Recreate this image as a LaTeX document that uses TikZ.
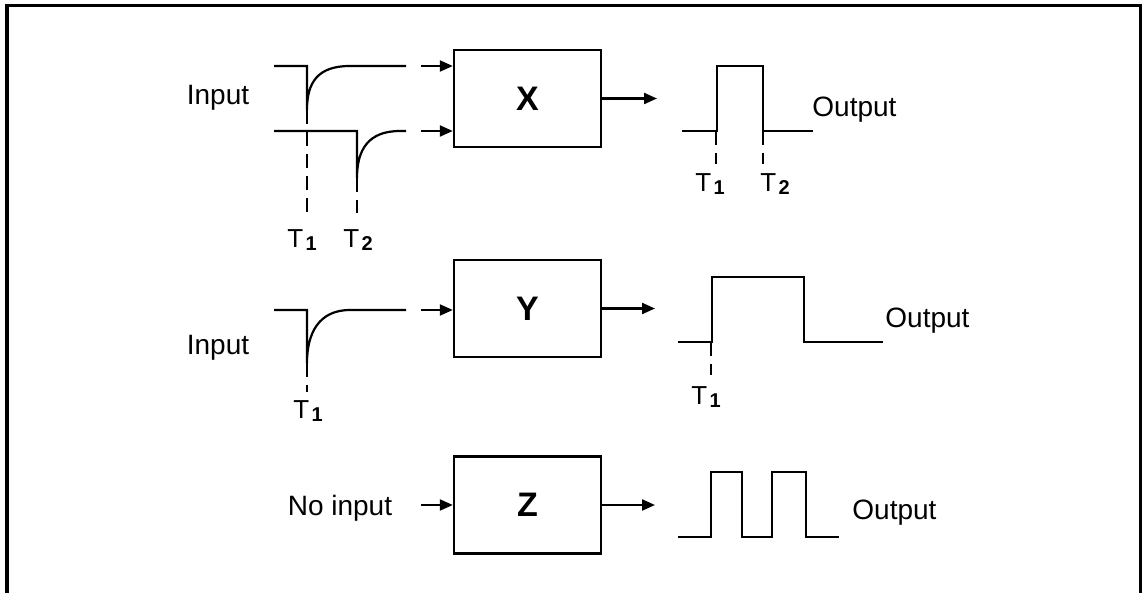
\documentclass[tikz,border=0pt]{standalone}
\usepackage{fontspec}
\setmainfont{Liberation Sans}
\usepackage{tikz}
\usetikzlibrary{arrows.meta,positioning}

\newcommand{\tlab}[1]{T\kern1.2pt\raisebox{-1.8pt}{\fontsize{10pt}{10pt}\selectfont\bfseries #1}}

\begin{document}
\begin{tikzpicture}[
    x=0.5pt, y=-0.5pt,
    blk/.style={draw, line width=1.2pt, minimum width=73.5pt, minimum height=48.5pt,
    font=\fontsize{17pt}{17pt}\selectfont\bfseries},
    txt/.style={font=\fontsize{14pt}{14pt}\selectfont, inner sep=0pt},
    tlbl/.style={font=\fontsize{13pt}{13pt}\selectfont, inner sep=0pt, anchor=north west},
    wave/.style={line width=1.1pt},
    guide/.style={line width=1.1pt, dash pattern=on 7pt off 4pt},
    arr/.style={-{Triangle[length=6.5pt,width=5.5pt]}, line width=1.1pt}
]
\useasboundingbox (0,0) rectangle (1142,593);
\draw[line width=1.8pt] (7,593) -- (7,5.5) -- (1140.5,5.5) -- (1140.5,593);

\node[blk] (X) at (527.5,98.5) {X};
\node[blk] (Y) at (527.5,308.5) {Y};
\node[blk] (Z) at (527.5,505) {Z};

\node[txt] (inx) at (218,98) {Input};
\node[txt] (iny) at (218,348) {Input};
\node[txt] (noin) at (340,508) {No input};
\node[txt, anchor=west] (outx) at (812,110) {Output};
\node[txt, anchor=west] (outy) at (885,321) {Output};
\node[txt, anchor=west] (outz) at (852,513) {Output};

\node[tlbl] (tx1) at (287,229) {\tlab{1}};
\node[tlbl] (tx2) at (343,229) {\tlab{2}};
\node[tlbl] (ox1) at (695,173) {\tlab{1}};
\node[tlbl] (ox2) at (760,173) {\tlab{2}};
\node[tlbl] (ty1) at (293,400) {\tlab{1}};
\node[tlbl] (oy1) at (691,386) {\tlab{1}};

\draw[wave] (274,66) -- (307,66) -- (307,110) .. controls (307,82) and (318,66) .. (350,66) -- (406,66);
\draw[wave] (274,131) -- (357,131) -- (357,178) .. controls (357,150) and (368,131) .. (400,131) -- (406,131);
\draw[guide] (307,110) -- (307,213);
\draw[guide] (357,178) -- (357,213);
\draw[wave] (682,131) -- (717,131) -- (717,66) -- (763,66) -- (763,131) -- (813,131);
\draw[guide] (716,131) -- (716,164);
\draw[guide] (763,131) -- (763,164);

\draw[wave] (274,310) -- (307,310) -- (307,363) .. controls (307,333) and (319,310) .. (350,310) -- (406,310);
\draw[guide] (307,363) -- (307,392);
\draw[wave] (678,342) -- (712,342) -- (712,277) -- (804,277) -- (804,342) -- (883,342);
\draw[guide] (711,342) -- (711,375);

\draw[wave] (678,537) -- (711,537) -- (711,472) -- (742,472) -- (742,537) -- (772,537)
    -- (772,472) -- (806,472) -- (806,537) -- (839,537);

\coordinate (xa1) at (421,66);
\coordinate (xa2) at (421,131);
\coordinate (xo) at (657,98.5);
\coordinate (ya) at (421,310);
\coordinate (yo) at (655,308.5);
\coordinate (za) at (421,505);
\coordinate (zo) at (655,505);
\draw[arr] (xa1) -- (xa1 -| X.west);
\draw[arr] (xa2) -- (xa2 -| X.west);
\draw[arr] (X) -- (xo);
\draw[arr] (ya) -- (ya -| Y.west);
\draw[arr] (Y) -- (yo);
\draw[arr] (za) -- (Z);
\draw[arr] (Z) -- (zo);
\end{tikzpicture}
\end{document}
